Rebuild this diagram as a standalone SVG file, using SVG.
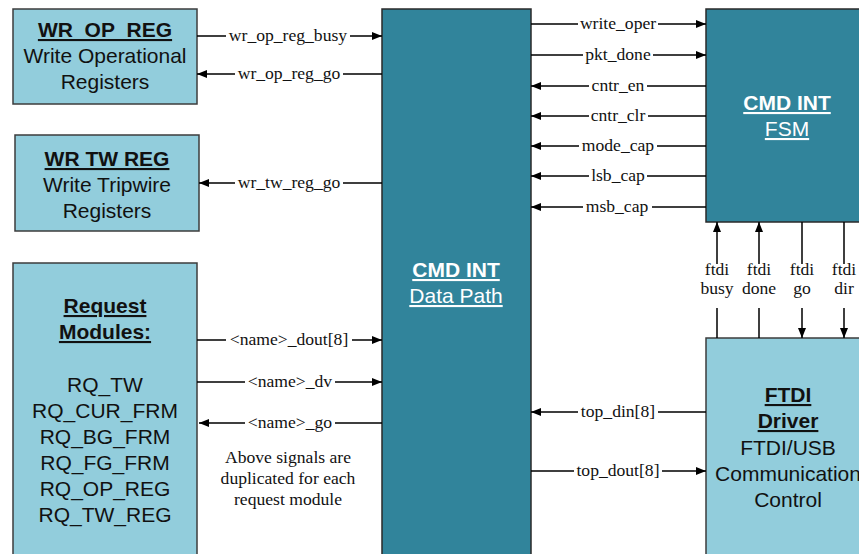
<svg xmlns="http://www.w3.org/2000/svg" width="859" height="554" viewBox="0 0 859 554">
  <defs>
    <marker id="ah" viewBox="0 0 10 8" refX="10" refY="4" markerWidth="10" markerHeight="8" markerUnits="userSpaceOnUse" orient="auto-start-reverse">
      <path d="M0,0 L10,4 L0,8 z" fill="#000"/>
    </marker>
    <style>
      .light { fill: #92cddc; stroke: #3c3c3c; stroke-width: 1.5; }
      .teal { fill: #31849b; stroke: #2a2a2a; stroke-width: 1.5; }
      .sans { font-family: "Liberation Sans", Arial, sans-serif; font-size: 21px; fill: #111; text-anchor: middle; }
      .white { fill: #fff; }
      .b { font-weight: bold; }
      .u { text-decoration: underline; }
      .sig { font-family: "Liberation Serif", "Times New Roman", serif; font-size: 17.6px; fill: #111; text-anchor: middle; }
      .wire { fill: none; stroke: #000; stroke-width: 1.5; }
    </style>
  </defs>
  <rect width="859" height="554" fill="#fff"/>

  <!-- Write operational registers block -->
  <g id="wr_op_reg">
    <rect class="light" x="13" y="9" width="184" height="95"/>
    <text class="sans b u" x="105" y="37">WR_OP_REG</text>
    <text class="sans" x="105" y="63">Write Operational</text>
    <text class="sans" x="105" y="89">Registers</text>
  </g>

  <!-- Write tripwire registers block -->
  <g id="wr_tw_reg">
    <rect class="light" x="15" y="135" width="184" height="96"/>
    <text class="sans b u" x="107" y="166">WR TW REG</text>
    <text class="sans" x="107" y="192">Write Tripwire</text>
    <text class="sans" x="107" y="218">Registers</text>
  </g>

  <!-- Request modules block -->
  <g id="request_modules">
    <rect class="light" x="13" y="263" width="184" height="300"/>
    <text class="sans b u" x="105" y="313">Request</text>
    <text class="sans b u" x="105" y="339">Modules:</text>
    <text class="sans" x="105" y="392">RQ_TW</text>
    <text class="sans" x="105" y="418">RQ_CUR_FRM</text>
    <text class="sans" x="105" y="444">RQ_BG_FRM</text>
    <text class="sans" x="105" y="470">RQ_FG_FRM</text>
    <text class="sans" x="105" y="496">RQ_OP_REG</text>
    <text class="sans" x="105" y="522">RQ_TW_REG</text>
  </g>

  <!-- Command interface data path -->
  <g id="cmd_int_datapath">
    <rect class="teal" x="382" y="9" width="149" height="560"/>
    <text class="sans white b u" x="456" y="277">CMD INT</text>
    <text class="sans white u" x="456" y="303">Data Path</text>
  </g>

  <!-- Command interface state machine -->
  <g id="cmd_int_fsm">
    <rect class="teal" x="706" y="9" width="170" height="213"/>
    <text class="sans white b u" x="787" y="110">CMD INT</text>
    <text class="sans white u" x="787" y="136">FSM</text>
  </g>

  <!-- FTDI driver -->
  <g id="ftdi_driver">
    <rect class="light" x="706" y="338" width="170" height="230"/>
    <text class="sans b u" x="788" y="402">FTDI</text>
    <text class="sans b u" x="788" y="428">Driver</text>
    <text class="sans" x="788" y="455">FTDI/USB</text>
    <text class="sans" x="788" y="481">Communication</text>
    <text class="sans" x="788" y="507">Control</text>
  </g>

  <!-- Signal wires -->
  <g id="connectors">
    <path class="wire" d="M197,36 H226 M350,36 H382" marker-end="url(#ah)"/>
    <path class="wire" d="M197,74 H235 M343,74 H382" marker-start="url(#ah)"/>
    <path class="wire" d="M199,183 H235 M343,183 H382" marker-start="url(#ah)"/>
    <path class="wire" d="M197,340 H226 M352,340 H382" marker-end="url(#ah)"/>
    <path class="wire" d="M197,382 H245 M335,382 H382" marker-end="url(#ah)"/>
    <path class="wire" d="M199,423 H245 M335,423 H382" marker-start="url(#ah)"/>

    <path class="wire" d="M531,24 H578 M658,24 H706" marker-end="url(#ah)"/>
    <path class="wire" d="M531,55 H583 M653,55 H706" marker-end="url(#ah)"/>
    <path class="wire" d="M531,86 H589 M647,86 H706" marker-start="url(#ah)"/>
    <path class="wire" d="M531,116 H589 M648,116 H706" marker-start="url(#ah)"/>
    <path class="wire" d="M531,146 H579 M657,146 H706" marker-start="url(#ah)"/>
    <path class="wire" d="M531,176 H589 M647,176 H706" marker-start="url(#ah)"/>
    <path class="wire" d="M531,207 H583 M652,207 H706" marker-start="url(#ah)"/>

    <path class="wire" d="M531,412 H578 M658,412 H706" marker-start="url(#ah)"/>
    <path class="wire" d="M531,471 H574 M662,471 H706" marker-end="url(#ah)"/>

    <path class="wire" d="M717,222 V264 M717,308 V338" marker-start="url(#ah)"/>
    <path class="wire" d="M759,222 V264 M759,308 V338" marker-start="url(#ah)"/>
    <path class="wire" d="M802,222 V264 M802,308 V338" marker-end="url(#ah)"/>
    <path class="wire" d="M844,222 V264 M844,308 V338" marker-end="url(#ah)"/>
  </g>

  <!-- Signal names -->
  <g id="signal_labels">
    <text class="sig" x="288" y="41">wr_op_reg_busy</text>
    <text class="sig" x="289" y="79">wr_op_reg_go</text>
    <text class="sig" x="289" y="188">wr_tw_reg_go</text>
    <text class="sig" x="289" y="345">&lt;name&gt;_dout[8]</text>
    <text class="sig" x="290" y="387">&lt;name&gt;_dv</text>
    <text class="sig" x="290" y="428">&lt;name&gt;_go</text>
    <text class="sig" x="288" y="463">Above signals are</text>
    <text class="sig" x="288" y="484">duplicated for each</text>
    <text class="sig" x="288" y="505">request module</text>

    <text class="sig" x="618" y="29">write_oper</text>
    <text class="sig" x="618" y="60">pkt_done</text>
    <text class="sig" x="618" y="91">cntr_en</text>
    <text class="sig" x="618" y="121">cntr_clr</text>
    <text class="sig" x="618" y="151">mode_cap</text>
    <text class="sig" x="618" y="181">lsb_cap</text>
    <text class="sig" x="617" y="212">msb_cap</text>
    <text class="sig" x="618" y="417">top_din[8]</text>
    <text class="sig" x="618" y="476">top_dout[8]</text>

    <text class="sig" x="717" y="275">ftdi</text>
    <text class="sig" x="717" y="294">busy</text>
    <text class="sig" x="759" y="275">ftdi</text>
    <text class="sig" x="759" y="294">done</text>
    <text class="sig" x="802" y="275">ftdi</text>
    <text class="sig" x="802" y="294">go</text>
    <text class="sig" x="844" y="275">ftdi</text>
    <text class="sig" x="844" y="294">dir</text>
  </g>
</svg>
